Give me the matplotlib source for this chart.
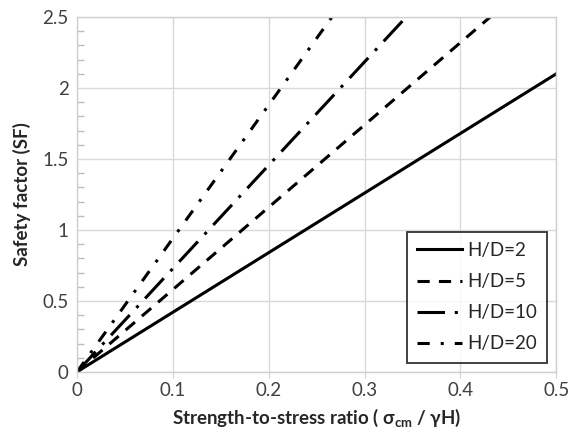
import matplotlib
matplotlib.use("Agg")
import matplotlib.pyplot as plt
from matplotlib.ticker import MultipleLocator

plt.rcParams['font.family'] = ['Lato', 'DejaVu Sans']

# strength-to-stress ratio and safety factor
ratio = [0.0, 0.5]
sf_hd2 = [0.0, 2.10]
sf_hd5 = [0.0, 2.90]
sf_hd10 = [0.0, 3.64]
sf_hd20 = [0.0, 4.70]
labels = ["H/D=2", "H/D=5", "H/D=10", "H/D=20"]

styles = ["-", (0, (4, 3)), (0, (9, 3.2, 1, 3.2)), (0, (4, 3.6, 1, 3.6))]

fig = plt.figure(figsize=(5.7, 4.36), dpi=100)
ax = fig.add_axes([0.135, 0.147, 0.841, 0.814])

for ys, ls, lab in zip([sf_hd2, sf_hd5, sf_hd10, sf_hd20], styles, labels):
    ax.plot(ratio, ys, color="black", linestyle=ls, linewidth=2.2, label=lab)

ax.set_xlim(0, 0.5)
ax.set_ylim(0, 2.5)
ax.yaxis.set_minor_locator(MultipleLocator(0.1))
ax.set_xticks([0, 0.1, 0.2, 0.3, 0.4, 0.5], ["0", "0.1", "0.2", "0.3", "0.4", "0.5"])
ax.set_yticks([0, 0.5, 1, 1.5, 2, 2.5], ["0", "0.5", "1", "1.5", "2", "2.5"])

ax.grid(True, which="major", color="#d9d9d9", linewidth=1)
ax.set_axisbelow(True)
for sp in ax.spines.values():
    sp.set_color("#d0d0d0")
    sp.set_linewidth(1)

ax.tick_params(axis="x", which="major", direction="out", length=4, color="#d0d0d0",
               labelsize=13.5, labelcolor="#404040", pad=3)
ax.tick_params(axis="y", which="major", length=0, labelsize=13.5, labelcolor="#404040", pad=6)
ax.tick_params(axis="y", which="minor", direction="in", length=5, width=1, color="#bdbdbd")

ax.set_xlabel("Strength-to-stress ratio ( $\\mathregular{\\sigma_{cm}}$ / γH)",
              fontsize=13.5, fontweight="bold", color="#262626", labelpad=6)
ax.set_ylabel("Safety factor (SF)", fontsize=13.5, fontweight="bold", color="#262626", labelpad=8)

leg = ax.legend(loc="lower right", fontsize=13.5, frameon=True, fancybox=False,
                borderaxespad=0.5, handlelength=2.4, handletextpad=0.25,
                labelspacing=0.75, borderpad=0.55)
leg.get_frame().set_edgecolor("black")
leg.get_frame().set_linewidth(1.3)
for t in leg.get_texts():
    t.set_color("#262626")

fig.savefig("out.png", dpi=100)
